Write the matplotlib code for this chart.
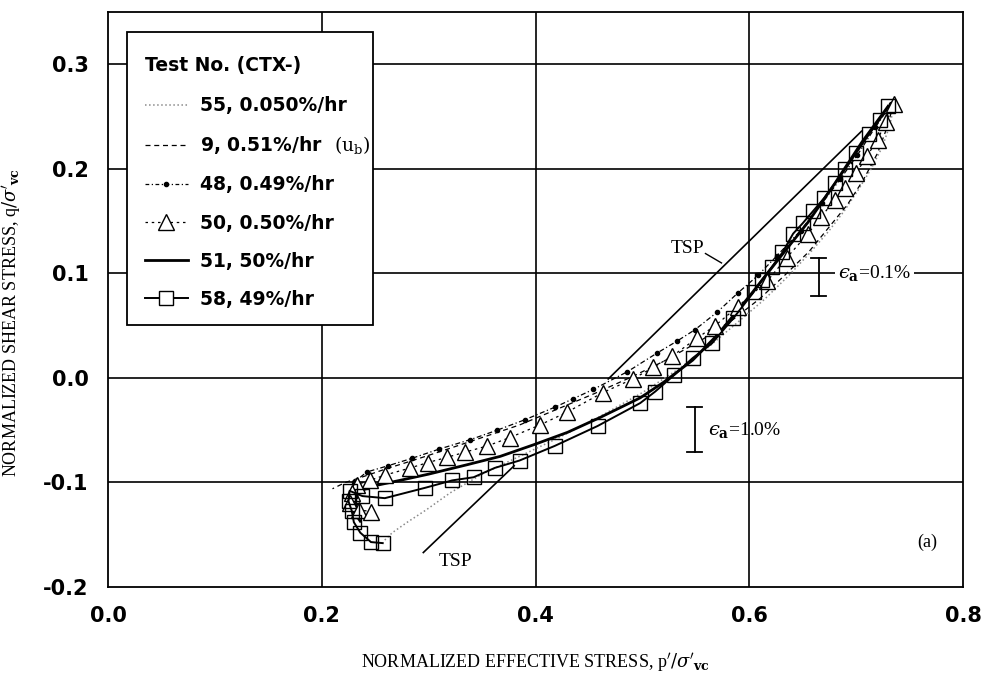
import matplotlib
matplotlib.use("Agg")
import matplotlib.pyplot as plt
from matplotlib.lines import Line2D
from matplotlib.patches import Rectangle

plt.rcParams['mathtext.fontset'] = 'dejavuserif'

# effective stress paths, p'/s'vc vs q/s'vc, from start of shear to end
p55 = [0.735, 0.731, 0.724, 0.714, 0.702, 0.689, 0.674, 0.657, 0.637, 0.614, 0.590, 0.560,
       0.530, 0.500, 0.460, 0.420, 0.385, 0.350, 0.320, 0.298, 0.280, 0.266, 0.258]
q55 = [0.258, 0.240, 0.220, 0.200, 0.180, 0.160, 0.140, 0.120, 0.098, 0.075, 0.054, 0.028,
       0.006, -0.014, -0.037, -0.058, -0.075, -0.092, -0.110, -0.126, -0.138, -0.148, -0.156]

p9 = [0.735, 0.729, 0.720, 0.707, 0.692, 0.676, 0.656, 0.635, 0.610, 0.585, 0.555, 0.520,
      0.490, 0.455, 0.420, 0.385, 0.350, 0.315, 0.285, 0.260, 0.240, 0.222, 0.210]
q9 = [0.262, 0.240, 0.215, 0.190, 0.166, 0.146, 0.121, 0.100, 0.076, 0.056, 0.036, 0.016,
      0.001, -0.015, -0.030, -0.045, -0.057, -0.069, -0.079, -0.087, -0.094, -0.100, -0.106]

p48 = [0.733, 0.718, 0.701, 0.685, 0.668, 0.648, 0.626, 0.608, 0.589, 0.570, 0.549, 0.532,
       0.514, 0.486, 0.454, 0.435, 0.418, 0.390, 0.364, 0.339, 0.310, 0.284, 0.262, 0.242,
       0.230, 0.226, 0.230]
q48 = [0.262, 0.240, 0.213, 0.190, 0.167, 0.141, 0.117, 0.098, 0.081, 0.063, 0.046, 0.035,
       0.024, 0.006, -0.011, -0.020, -0.028, -0.040, -0.050, -0.059, -0.068, -0.077, -0.084,
       -0.090, -0.100, -0.112, -0.122]

p50 = [0.735, 0.728, 0.720, 0.710, 0.700, 0.690, 0.680, 0.667, 0.655, 0.635, 0.617, 0.589,
       0.568, 0.551, 0.528, 0.510, 0.491, 0.463, 0.429, 0.404, 0.376, 0.355, 0.334, 0.317,
       0.299, 0.283, 0.259, 0.245, 0.233, 0.228, 0.226, 0.235, 0.246]
q50 = [0.262, 0.245, 0.228, 0.212, 0.196, 0.182, 0.170, 0.154, 0.138, 0.115, 0.093, 0.068,
       0.050, 0.038, 0.021, 0.010, -0.001, -0.014, -0.033, -0.045, -0.057, -0.065, -0.071,
       -0.076, -0.081, -0.086, -0.093, -0.098, -0.102, -0.110, -0.120, -0.126, -0.128]

p51 = [0.730, 0.705, 0.680, 0.655, 0.630, 0.600, 0.570, 0.547, 0.520, 0.498, 0.460, 0.430,
       0.398, 0.367, 0.336, 0.300, 0.273, 0.250, 0.236, 0.229, 0.230, 0.236]
q51 = [0.260, 0.225, 0.186, 0.149, 0.117, 0.078, 0.041, 0.017, -0.004, -0.019, -0.038, -0.052,
       -0.064, -0.075, -0.083, -0.092, -0.098, -0.103, -0.108, -0.117, -0.128, -0.137]

p58 = [0.730, 0.722, 0.712, 0.700, 0.690, 0.680, 0.670, 0.660, 0.650, 0.641, 0.631, 0.621,
       0.612, 0.604, 0.585, 0.565, 0.547, 0.530, 0.512, 0.498, 0.458, 0.418, 0.385, 0.362,
       0.342, 0.322, 0.297, 0.259, 0.238, 0.226, 0.225, 0.228, 0.230, 0.236, 0.246, 0.257]
q58 = [0.260, 0.247, 0.233, 0.215, 0.200, 0.186, 0.172, 0.160, 0.148, 0.138, 0.120, 0.106,
       0.094, 0.082, 0.057, 0.033, 0.019, 0.003, -0.013, -0.024, -0.046, -0.065, -0.079,
       -0.086, -0.095, -0.098, -0.105, -0.115, -0.113, -0.108, -0.118, -0.127, -0.138,
       -0.148, -0.157, -0.158]

labels = ["55, 0.050%/hr", r"9, 0.51%/hr  $(\mathrm{u_b})$", "48, 0.49%/hr",
          "50, 0.50%/hr", "51, 50%/hr", "58, 49%/hr"]

# total stress path, drawn in two pieces either side of the data band
tsp_upper_p = [0.468, 0.705]
tsp_upper_q = [-0.001, 0.236]
tsp_lower_p = [0.295, 0.380]
tsp_lower_q = [-0.167, -0.084]

xticks = [0.0, 0.2, 0.4, 0.6, 0.8]
yticks = [-0.2, -0.1, 0.0, 0.1, 0.2, 0.3]

serif = 'Liberation Serif'

fig = plt.figure(figsize=(9.84, 6.77), dpi=100)
ax = fig.add_axes([0.1098, 0.1329, 0.8689, 0.8493])
ax.set_xlim(0.0, 0.8)
ax.set_ylim(-0.2, 0.35)

for v in [0.2, 0.4, 0.6]:
    ax.axvline(v, color='black', lw=1.2, zorder=1)
for v in [-0.1, 0.0, 0.1, 0.2, 0.3]:
    ax.axhline(v, color='black', lw=1.2, zorder=1)

ax.plot(p55, q55, color='#8a8a8a', ls=':', lw=1.1, zorder=3)
ax.plot(p9, q9, color='black', ls=(0, (4, 3)), lw=0.9, zorder=3)
ax.plot(p48, q48, color='black', ls=(0, (4, 2, 1, 2)), lw=0.9, marker='o', ms=3,
        zorder=3)
ax.plot(p50, q50, color='black', ls=(0, (2, 3)), lw=0.9, marker='^', ms=11,
        mfc='white', mec='black', mew=1.0, zorder=4)
ax.plot(p51, q51, color='black', ls='-', lw=2.0, zorder=3)
ax.plot(p58, q58, color='black', ls='-', lw=1.4, marker='s', ms=10,
        mfc='none', mec='black', mew=1.0, zorder=4)

ax.plot(tsp_upper_p, tsp_upper_q, color='black', lw=1.2, zorder=2)
ax.plot(tsp_lower_p, tsp_lower_q, color='black', lw=1.2, zorder=2)
ax.text(0.542, 0.124, "TSP", family=serif, fontsize=14, ha='center', va='center')
ax.plot([0.559, 0.574], [0.119, 0.110], color='black', lw=1.0)
ax.text(0.325, -0.176, "TSP", family=serif, fontsize=14, ha='center', va='center')

# axial strain scale bars
for x, y0, y1 in [(0.665, 0.078, 0.1145), (0.549, -0.071, -0.028)]:
    ax.plot([x, x], [y0, y1], color='black', lw=1.3)
    ax.plot([x - 0.007, x + 0.007], [y0, y0], color='black', lw=1.3)
    ax.plot([x - 0.007, x + 0.007], [y1, y1], color='black', lw=1.3)
ax.text(0.683, 0.1, "$\u03f5_{\\mathbf{a}}$=0.1%", family=serif, fontsize=14,
        ha='left', va='center', zorder=5,
        bbox=dict(facecolor='white', edgecolor='none', pad=2))
ax.text(0.561, -0.050, "$\u03f5_{\\mathbf{a}}$=1.0%", family=serif, fontsize=14,
        ha='left', va='center')
ax.text(0.958, 0.078, "(a)", transform=ax.transAxes, family=serif, fontsize=13,
        ha='center', va='center')

ax.set_xticks(xticks)
ax.set_yticks(yticks)
ax.set_xticklabels([f"{v:.1f}" for v in xticks])
ax.set_yticklabels([f"{v:.1f}" for v in yticks])
ax.tick_params(length=0, pad=14, labelsize=15)
for t in ax.get_xticklabels() + ax.get_yticklabels():
    t.set_fontweight('bold')
for s in ax.spines.values():
    s.set_linewidth(1.3)

ax.set_xlabel(r"NORMALIZED EFFECTIVE STRESS, p$'/\sigma'_{\mathbf{vc}}$", family=serif,
              fontsize=13)
ax.set_ylabel(r"NORMALIZED SHEAR STRESS, q$/\sigma'_{\mathbf{vc}}$", family=serif,
              fontsize=13)
ax.xaxis.set_label_coords(0.5, -0.112)
ax.yaxis.set_label_coords(-0.1, 0.46)

# legend box drawn separately so its size can be set directly
ax.add_patch(Rectangle((0.0222, 0.4557), 0.2878, 0.5093, transform=ax.transAxes,
                       facecolor='white', edgecolor='black', lw=1.3, zorder=9))

handles = [
    Line2D([], [], color='#8a8a8a', ls=':', lw=1.1),
    Line2D([], [], color='black', ls=(0, (4, 3)), lw=0.9),
    Line2D([], [], color='black', ls=(0, (3, 2, 1, 2)), lw=0.9, marker='o', ms=3),
    Line2D([], [], color='black', ls=(0, (2, 3)), lw=0.9, marker='^', ms=11,
           mfc='white', mec='black'),
    Line2D([], [], color='black', lw=2.0),
    Line2D([], [], color='black', lw=1.4, marker='s', ms=10, mfc='white', mec='black'),
]
leg = ax.legend(handles, labels, loc='upper left', bbox_to_anchor=(0.043, 0.923),
                borderaxespad=0, borderpad=0, title="Test No. (CTX-)", alignment='left',
                numpoints=1, handlelength=2.3, handletextpad=0.65, labelspacing=1.02,
                frameon=False,
                prop={'weight': 'bold', 'size': 13.5},
                title_fontproperties={'weight': 'bold', 'size': 13.5})
leg._legend_box.sep = 15
leg.set_zorder(10)

fig.savefig("out.png", dpi=100)
